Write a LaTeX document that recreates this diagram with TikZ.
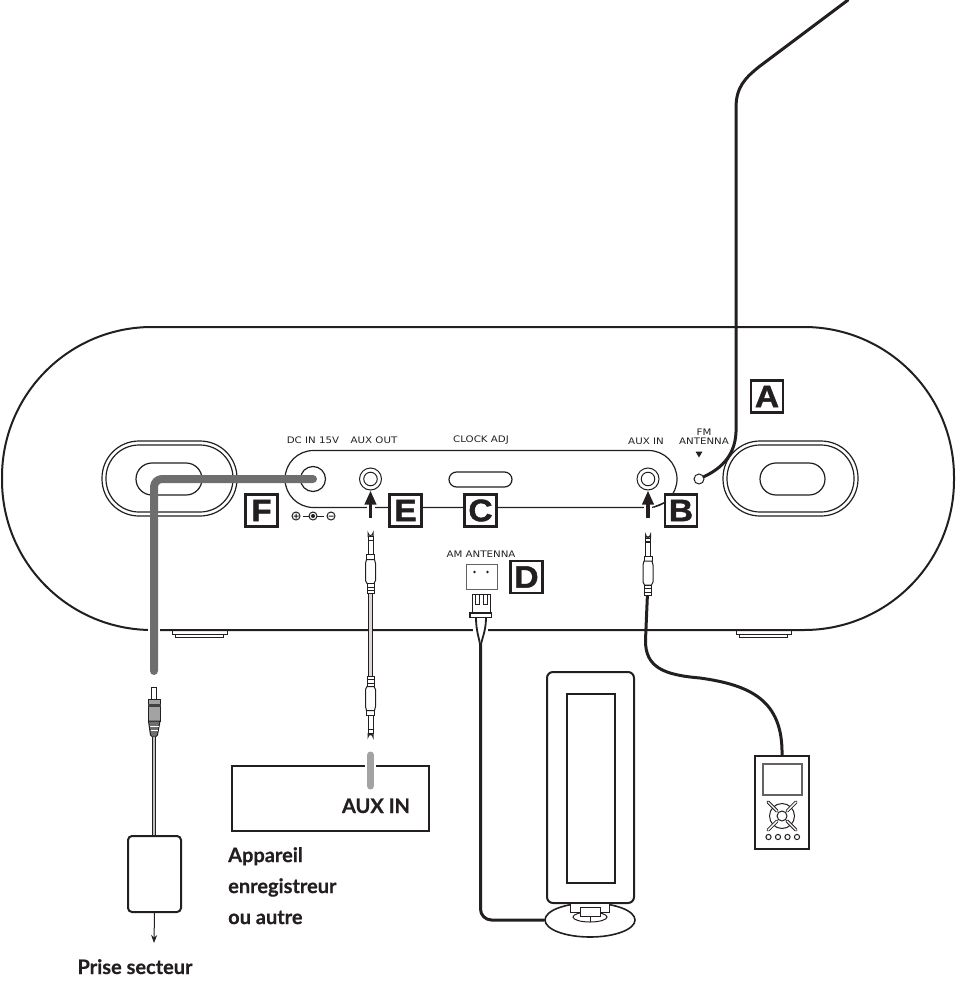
\documentclass[tikz,border=0pt]{standalone}
\usepackage{fontspec}
\setmainfont[BoldFeatures={FakeBold=0.6}]{Lato}
\newfontfamily\panelfont[FakeStretch=1.14]{DejaVu Sans}
\newfontfamily\heavyfont[BoldFeatures={FakeBold=1.5,FakeStretch=1.08}]{Liberation Sans}
\usetikzlibrary{arrows.meta,shapes.geometric}
\definecolor{cablegray}{HTML}{6E6E6E}
\definecolor{lightcable}{HTML}{A3A3A3}
\definecolor{ink}{HTML}{231F20}
\tikzset{
 every node/.style={text=ink},
 line/.style={draw=ink,line width=1.2pt},
 thin line/.style={draw=ink,line width=1pt},
 mark box/.style={draw=ink,line width=2.2pt,fill=white,minimum size=32pt,inner sep=0pt,font=\heavyfont\bfseries\fontsize{31}{31}\selectfont},
 panel text/.style={font=\panelfont\fontsize{9}{9.5}\selectfont,inner sep=0pt,align=center},
 big text/.style={font=\fontsize{20}{31}\selectfont\bfseries,inner sep=0pt,align=left},
 black cable/.style={draw=ink,line width=3pt,line cap=round},
 gray cable/.style={draw=cablegray,line width=8pt,line cap=round,line join=round},
 push arrow/.style={draw=ink,line width=3.6pt,-{Triangle[length=14pt,width=11pt]}},
 arrow halo/.style={draw=white,line width=8pt},
 pics/jack/.style={code={
   \draw[thin line,fill=white] (-2.5,2.5) arc[start angle=180,end angle=0,radius=2.5] -- (2.5,6) -- (-2.5,6) -- cycle;
   \draw[thin line,fill=white] (-2.5,6) rectangle (2.5,24);
   \draw[draw=ink,line width=1.6pt] (-2.5,10) -- (2.5,10);
   \draw[thin line,fill=white] (-4,24) rectangle (4,29);
   \draw[thin line,fill=white] (-4,29) -- (-5,33) -- (-5,50) -- (-3.5,53) -- (3.5,53) -- (5,50) -- (5,33) -- (4,29) -- cycle;
   \draw[thin line,fill=white] (-3.5,53) rectangle (3.5,63);
   \draw[thin line] (-3.5,56.5) -- (3.5,56.5) (-3.5,60) -- (3.5,60);
 }}
}
\begin{document}
\begin{tikzpicture}[x=1pt,y=-1pt]
\useasboundingbox (0,0) rectangle (956,987);
% main body
\coordinate (bodyA) at (2,327); \coordinate (bodyB) at (954,630);
\draw[draw=ink,line width=2pt,rounded corners=150pt] (bodyA) rectangle (bodyB);
% feet
\draw[thin line] (172,631) -- (172,634) -- (175,634) -- (175,637.5) -- (223,637.5) -- (223,634) -- (227,634) -- (227,631);
\draw[thin line] (172,634) -- (227,634);
\draw[thin line] (736,631) -- (736,634) -- (739,634) -- (739,637.5) -- (787,637.5) -- (787,634) -- (791,634) -- (791,631);
\draw[thin line] (736,634) -- (791,634);
% speakers
\draw[line] (102,441) [rounded corners=37pt] rectangle (237,516);
\draw[line] (106,445) [rounded corners=33pt] rectangle (233,512);
\draw[line] (136,463) [rounded corners=16pt] rectangle (202,495);
\draw[line] (723,441) [rounded corners=37pt] rectangle (858,516);
\draw[line] (727,445) [rounded corners=33pt] rectangle (854,512);
\draw[line] (760,463) [rounded corners=16pt] rectangle (825,495);
% rear panel
\draw[line,rounded corners=28.5pt] (400,450.5) -- (677,450.5) -- (677,507.5) -- (285,507.5) -- (285,450.5) -- cycle;
% sockets
\node[circle,draw=ink,line width=1.2pt,minimum size=25pt,inner sep=0pt] (dcjack) at (313,479) {};
\node[circle,draw=ink,line width=1pt,minimum size=22pt,inner sep=0pt] (auxoutjack) at (370.5,479) {};
\node[circle,draw=ink,line width=1pt,minimum size=13.5pt,inner sep=0pt] (auxoutcore) at (auxoutjack) {};
\node[circle,draw=ink,line width=1pt,minimum size=22pt,inner sep=0pt] (auxinjack) at (648,479) {};
\node[circle,draw=ink,line width=1pt,minimum size=13.5pt,inner sep=0pt] (auxincore) at (auxinjack) {};
\node[circle,draw=ink,line width=1pt,minimum size=10pt,inner sep=0pt] (fmjack) at (699,479) {};
\draw[line] (449,472) [rounded corners=7.5pt] rectangle (512,487);
% panel labels
\node[panel text] at (313,440) {DC IN 15V};
\node[panel text] at (374,440) {AUX OUT};
\node[panel text] at (481,440) {CLOCK ADJ};
\node[panel text] at (646,441) {AUX IN};
\node[panel text] at (704,432) {FM};
\node[panel text] at (704,441) {ANTENNA};
\node[panel text] at (481,554) {AM ANTENNA};
\fill[ink] (695.5,451.5) -- (702.5,451.5) -- (699,457.5) -- cycle;
% polarity symbol
\draw[thin line] (296,516) circle[radius=4] (293.5,516) -- (298.5,516) (296,513.5) -- (296,518.5);
\draw[thin line] (331,516) circle[radius=4] (328.5,516) -- (333.5,516);
\draw[thin line] (303,516) -- (324,516);
\draw[thin line,fill=white] (313,516) circle[radius=4];
\fill[ink] (313,516) circle[radius=2];
% letter markers
\node[mark box] (A) at (767,396.5) {A};
\node[mark box] (B) at (681,510.5) {B};
\node[mark box] (C) at (480.5,510.5) {C};
\node[mark box] (D) at (526.5,577) {D};
\node[mark box] (E) at (405.5,510.5) {E};
\node[mark box] (F) at (261.5,510.5) {F};
% FM antenna
\coordinate (antennaEnd) at (848,0);
\draw[black cable] (fmjack) .. controls (718,470) and (735,458) .. (736,432) -- (736,108) .. controls (736,87) and (745,78) .. (760,66) -- (antennaEnd);
% push arrows
\coordinate (arrowE) at (370.5,518); \coordinate (arrowB) at (648,518);
\draw[arrow halo] (arrowE) -- (370.5,502);
\draw[arrow halo] (arrowB) -- (648,502);
\draw[line] (654,507) -- (666,502);
\draw[push arrow] (arrowE) -- (auxoutjack.south);
\draw[push arrow] (arrowB) -- (auxinjack.south);
% power cable
\coordinate (powerEnd) at (154,671);
\draw[draw=white,line width=12pt] (154,615) -- (154,645);
\draw[gray cable,rounded corners=8pt] (dcjack.center) -- (154,479) -- (powerEnd);
% DC plug
\draw[thin line,fill=white] (151.5,699) -- (151.5,687.5) -- (156.5,687.5) -- (156.5,699);
\draw[thin line,fill=lightcable] (148,699.5) -- (160.5,699.5) -- (160.5,721) -- (148,721) -- cycle;
\fill[ink!85] (148,704) rectangle (160.5,707);
\draw[thin line,fill=cablegray] (148.5,721) -- (160,721) -- (157.5,735) -- (155.5,737) -- (152.5,737) -- (150.5,735) -- cycle;
\draw[white,line width=.5pt] (150,726) -- (159,726) (150.5,730) -- (158,730);
\node[draw=ink,line width=2pt,minimum width=53pt,minimum height=76pt,rounded corners=4pt,inner sep=0pt] (adapter) at (154.5,874) {};
\draw[draw=ink,line width=4.6pt] (154,737) -- (adapter.north -| 154,0);
\draw[draw=white!75!black,line width=2.4pt] (154,737) -- (adapter.north -| 154,0);
\coordinate (mains) at (154,943);
\draw[thin line,-{Stealth[length=8pt,width=6pt]}] (adapter.south) -- (mains);
\node[big text,anchor=base] at (135,974) {Prise secteur};
% AUX OUT cable
\draw[draw=ink,line width=5.2pt] (370.5,590) -- (370.5,680);
\draw[draw=white!85!black,line width=3pt] (370.5,590) -- (370.5,680);
\pic at (370.5,530.5) {jack};
\pic[yscale=-1] at (370.5,739.5) {jack};
% recorder
\node[draw=ink,line width=1.6pt,minimum width=197pt,minimum height=65pt,inner sep=0pt] (recorder) at (330.5,798.5) {};
\draw[draw=white,line width=11pt] (370.5,762) -- (370.5,770);
\draw[draw=lightcable,line width=7pt,line cap=round] (370.5,755) -- (370.5,786);
\node[big text,anchor=base] at (376,813) {AUX IN};
\node[big text,anchor=north west] at (228,847) {Appareil\\enregistreur\\ou autre};
% AM connector
\node[draw=ink!70,line width=.8pt,minimum width=31pt,minimum height=25pt,inner sep=0pt] (amsocket) at (481.5,576.5) {};
\fill[ink] (474.5,572) circle[radius=1.3] (487.5,572) circle[radius=1.3];
\draw[thin line,fill=white] (472.5,594) rectangle (490,613);
\draw[thin line] (475.5,594) rectangle (479.5,604) (483.5,594) rectangle (487.5,604);
\draw[line,fill=white] (470,613) rectangle (491.5,617.5);
\draw[draw=white,line width=15pt] (480.5,625) -- (480.5,636);
\draw[draw=ink,line width=1.8pt] (476,618) .. controls (476,632) and (480,640) .. (480.5,648);
\draw[draw=ink,line width=1.8pt] (486,618) .. controls (486,632) and (481,640) .. (480.5,648);
% AM stand
\node[draw=ink,line width=1.6pt,fill=white,ellipse,minimum width=90pt,minimum height=34pt,inner sep=0pt] (base) at (590,920) {};
\draw[black cable,rounded corners=11pt] (480.5,645) -- (480.5,920) -- (base.west);
\node[draw=ink,line width=2pt,fill=white,minimum width=87pt,minimum height=231pt,rounded corners=6pt,inner sep=0pt] (loop) at (590.5,787.5) {};
\node[draw=ink,line width=2pt,minimum width=48pt,minimum height=189pt,inner sep=0pt] (loopinner) at (591,788.5) {};
\draw[thin line,fill=white] (570,903.5) rectangle (609,912);
\draw[thin line] (590,917) ellipse[x radius=17,y radius=5];
\draw[thin line,fill=white] (580,907) rectangle (600,916);
\draw[thin line] (590,916) -- (590,922);
% AUX IN cable and player
\node[draw=ink,line width=2pt,minimum width=54pt,minimum height=93pt,inner sep=0pt] (player) at (782,802.5) {};
\draw[black cable,line cap=butt] (647.5,593) -- (645.5,640) .. controls (645,668) and (665,675) .. (700,678) .. controls (750,685) and (783,700) .. (player.north);
\pic at (648,532) {jack};
\draw[draw=ink!70,line width=1.2pt] (763,764) rectangle (802,795);
\draw[thin line] (782,816) circle[radius=12.5];
\draw[thin line,fill=white] (782,816) circle[radius=5];
\foreach \dx/\dy in {1/1,1/-1,-1/1,-1/-1}{
 \draw[draw=ink,line width=3.2pt,line cap=round] (782+5*\dx,816+5*\dy) -- (782+14*\dx,816+14*\dy);
 \draw[draw=white,line width=1.4pt,line cap=round] (782+5*\dx,816+5*\dy) -- (782+14*\dx,816+14*\dy);
}
\foreach \bx in {768.5,778,787.5,797}{\draw[thin line] (\bx,837) circle[radius=2.6];}
\end{tikzpicture}
\end{document}
